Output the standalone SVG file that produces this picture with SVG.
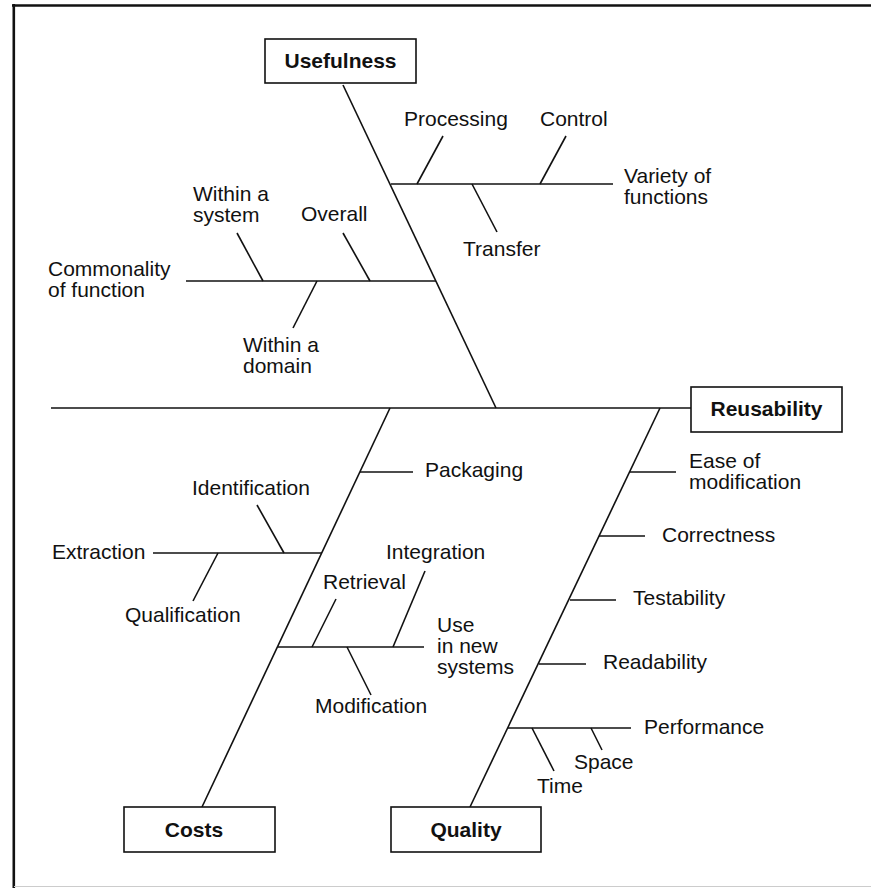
<svg xmlns="http://www.w3.org/2000/svg" width="871" height="888" viewBox="0 0 871 888">
<style>
.l{stroke:#111;stroke-width:1.6;fill:none;stroke-linecap:butt}
.b{fill:#fff;stroke:#111;stroke-width:1.6}
.t{font-family:"Liberation Sans",Arial,Helvetica,sans-serif;font-size:21px;fill:#111}
.h{font-family:"Liberation Sans",Arial,Helvetica,sans-serif;font-size:21px;font-weight:bold;fill:#111;text-anchor:middle}
</style>
<rect width="871" height="888" fill="#fff"/>
<g id="frame">
<line x1="12" y1="5.5" x2="871" y2="5.5" stroke="#111" stroke-width="2.6"/>
<line x1="13.8" y1="4" x2="13.8" y2="888" stroke="#111" stroke-width="2.6"/>
<line x1="14" y1="886.5" x2="871" y2="886.5" stroke="#ccc" stroke-width="1"/>
</g>
<g id="connectors">
<line class="l" x1="51" y1="408" x2="691" y2="408"/>
<line class="l" x1="343" y1="85" x2="496" y2="408"/>
<line class="l" x1="391" y1="184" x2="613" y2="184"/>
<line class="l" x1="417" y1="184" x2="443" y2="136"/>
<line class="l" x1="540" y1="184" x2="566" y2="136"/>
<line class="l" x1="472" y1="184" x2="497" y2="232"/>
<line class="l" x1="186" y1="281" x2="436" y2="281"/>
<line class="l" x1="263" y1="281" x2="237" y2="233"/>
<line class="l" x1="370" y1="281" x2="343" y2="233"/>
<line class="l" x1="317" y1="281" x2="293" y2="328"/>
<line class="l" x1="390" y1="408" x2="202" y2="807"/>
<line class="l" x1="360" y1="472" x2="413" y2="472"/>
<line class="l" x1="153" y1="553" x2="322" y2="553"/>
<line class="l" x1="284" y1="553" x2="257" y2="505"/>
<line class="l" x1="218" y1="553" x2="193" y2="601"/>
<line class="l" x1="278" y1="647" x2="424" y2="647"/>
<line class="l" x1="312" y1="647" x2="336" y2="599"/>
<line class="l" x1="393" y1="647" x2="425" y2="571"/>
<line class="l" x1="347" y1="647" x2="371" y2="695"/>
<line class="l" x1="660" y1="408" x2="470" y2="807"/>
<line class="l" x1="630" y1="472" x2="676" y2="472"/>
<line class="l" x1="599" y1="536" x2="645" y2="536"/>
<line class="l" x1="570" y1="600" x2="616" y2="600"/>
<line class="l" x1="539" y1="664" x2="586" y2="664"/>
<line class="l" x1="508" y1="728" x2="631" y2="728"/>
<line class="l" x1="532" y1="728" x2="554" y2="771"/>
<line class="l" x1="591" y1="728" x2="602" y2="750"/>
</g>
<g id="usefulness">
<rect class="b" x="265" y="39" width="151" height="44"/>
<text class="h" x="340.5" y="68">Usefulness</text>
</g>
<g id="reusability">
<rect class="b" x="691" y="387" width="151" height="45"/>
<text class="h" x="766.5" y="416">Reusability</text>
</g>
<g id="costs">
<rect class="b" x="124" y="807" width="151" height="45"/>
<text class="h" x="194" y="837">Costs</text>
</g>
<g id="quality">
<rect class="b" x="391" y="807" width="150" height="45"/>
<text class="h" x="466" y="837">Quality</text>
</g>
<g id="variety">
<text class="t" x="624" y="183">Variety of<tspan x="624" dy="21">functions</tspan></text>
</g>
<g id="processing"><text class="t" x="404" y="126">Processing</text></g>
<g id="control"><text class="t" x="540" y="126">Control</text></g>
<g id="transfer"><text class="t" x="463" y="256">Transfer</text></g>
<g id="commonality">
<text class="t" x="48" y="276">Commonality<tspan x="48" dy="21">of function</tspan></text>
</g>
<g id="within-system">
<text class="t" x="193" y="201">Within a<tspan x="193" dy="21">system</tspan></text>
</g>
<g id="overall"><text class="t" x="301" y="221">Overall</text></g>
<g id="within-domain">
<text class="t" x="243" y="352">Within a<tspan x="243" dy="21">domain</tspan></text>
</g>
<g id="packaging"><text class="t" x="425" y="477">Packaging</text></g>
<g id="extraction"><text class="t" x="52" y="559">Extraction</text></g>
<g id="identification"><text class="t" x="192" y="495">Identification</text></g>
<g id="qualification"><text class="t" x="125" y="622">Qualification</text></g>
<g id="retrieval"><text class="t" x="323" y="589">Retrieval</text></g>
<g id="integration"><text class="t" x="386" y="559">Integration</text></g>
<g id="modification"><text class="t" x="315" y="713">Modification</text></g>
<g id="use-new">
<text class="t" x="437" y="632">Use<tspan x="437" dy="21">in new</tspan><tspan x="437" dy="21">systems</tspan></text>
</g>
<g id="ease">
<text class="t" x="689" y="468">Ease of<tspan x="689" dy="21">modification</tspan></text>
</g>
<g id="correctness"><text class="t" x="662" y="542">Correctness</text></g>
<g id="testability"><text class="t" x="633" y="605">Testability</text></g>
<g id="readability"><text class="t" x="603" y="669">Readability</text></g>
<g id="performance"><text class="t" x="644" y="734">Performance</text></g>
<g id="space"><text class="t" x="574" y="769">Space</text></g>
<g id="time"><text class="t" x="537" y="793">Time</text></g>
</svg>
